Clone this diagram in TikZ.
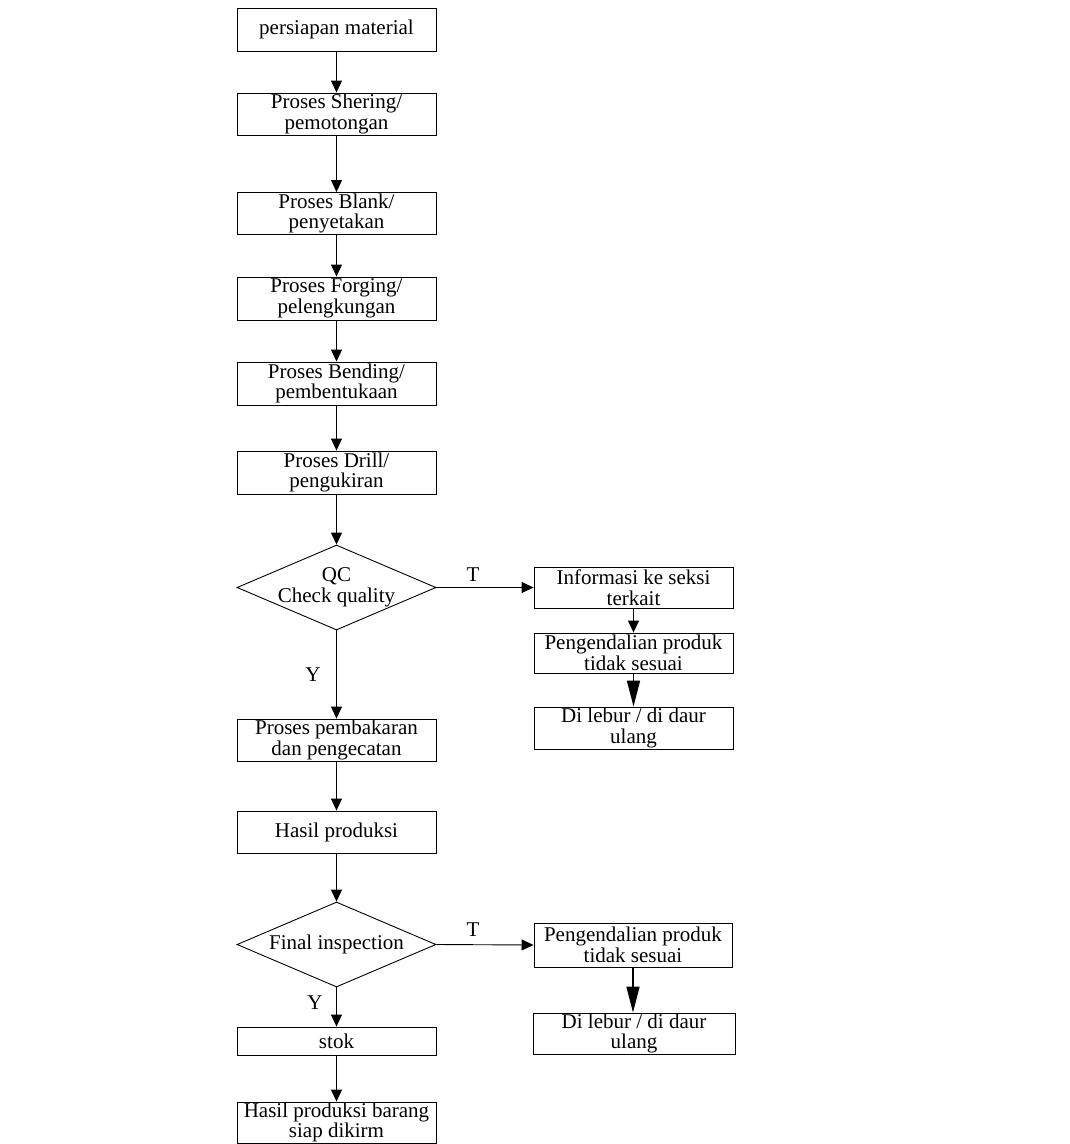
\documentclass[tikz,border=0pt]{standalone}
\usepackage{fontspec}
\setmainfont{Liberation Serif}
\usetikzlibrary{shapes.geometric,arrows.meta}
\begin{document}
\begin{tikzpicture}[x=1pt,y=-1pt,line width=0.9pt,
  every node/.style={font=\fontsize{21}{20.5}\selectfont},
  proc/.style={draw,rectangle,minimum width=199pt,minimum height=42pt,inner sep=0pt,align=center},
  decision/.style={draw,diamond,aspect=2.34,minimum width=199pt,minimum height=85pt,inner sep=-10pt,align=center},
  arr/.style={-{Triangle[length=12pt,width=11pt]}},
  bigarr/.style={line width=1.5pt,-{Triangle[length=26pt,width=13pt]}}]
\useasboundingbox (0,0) rectangle (1070,1144);
\node[proc,minimum height=43pt] (mat) at (336.5,29.5) {persiapan material};
\node[proc] (shr) at (336.5,114) {Proses Shering/\\pemotongan};
\node[proc] (blk) at (336.5,213.5) {Proses Blank/\\penyetakan};
\node[proc,minimum height=43pt] (frg) at (336.5,298.5) {Proses Forging/\\pelengkungan};
\node[proc,minimum height=43pt] (bnd) at (336.5,383.5) {Proses Bending/\\pembentukaan};
\node[proc,minimum height=43pt] (drl) at (336.5,472.5) {Proses Drill/\\pengukiran};
\node[decision] (qc) at (336.5,587.5) {QC\\Check quality};
\node[proc,minimum height=41pt] (inf) at (633.5,587.5) {Informasi ke seksi\\terkait};
\node[proc,minimum height=40pt] (pg1) at (633.5,653) {Pengendalian produk\\tidak sesuai};
\node[proc] (lb1) at (633.5,728) {Di lebur / di daur\\ulang};
\node[proc] (bkr) at (336.5,740) {Proses pembakaran\\dan pengecatan};
\node[proc] (hsl) at (336.5,832) {Hasil produksi};
\node[decision] (fin) at (336.5,944.5) {Final inspection};
\node[proc,minimum width=198pt,minimum height=44pt] (pg2) at (633,945) {Pengendalian produk\\tidak sesuai};
\node[proc,minimum width=202pt,minimum height=41pt] (lb2) at (634,1033.5) {Di lebur / di daur\\ulang};
\node[proc,minimum height=28pt] (stk) at (336.5,1041) {stok};
\node[proc,minimum height=41pt] (krm) at (336.5,1122.5) {Hasil produksi barang\\siap dikirm};
\node (t1) at (473,575) {T};
\node (y1) at (313,675) {Y};
\node (t2) at (473,930) {T};
\node (y2) at (315,1003) {Y};
\draw[arr] (mat) -- (shr);
\draw[arr] (shr) -- (blk);
\draw[arr] (blk) -- (frg);
\draw[arr] (frg) -- (bnd);
\draw[arr] (bnd) -- (drl);
\draw[arr] (drl) -- (qc.north);
\draw[arr] (qc.east) -- (inf.west);
\draw[arr] (inf) -- (pg1);
\draw[bigarr] (pg1) -- (lb1);
\draw[arr] (qc.south) -- (bkr);
\draw[arr] (bkr) -- (hsl);
\draw[arr] (hsl) -- (fin.north);
\draw[arr] (fin.east) -- (pg2.west);
\draw[bigarr] (pg2.south) -- (pg2.south|-lb2.north);
\draw[arr] (fin.south) -- (stk);
\draw[arr] (stk) -- (krm);
\end{tikzpicture}
\end{document}
